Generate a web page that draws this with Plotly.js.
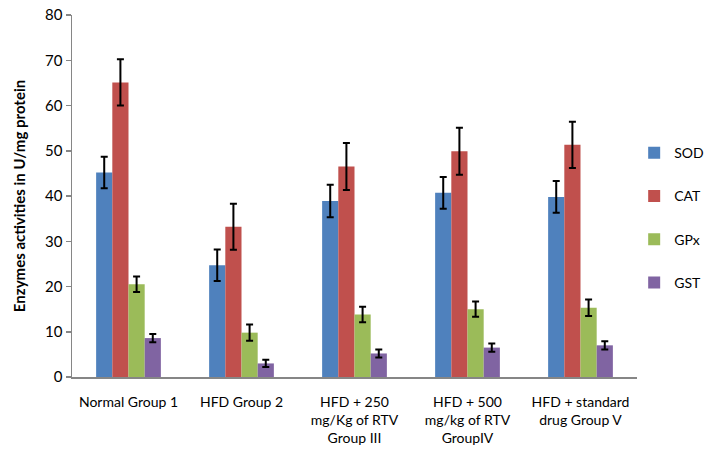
<!DOCTYPE html>
<html>
<head>
<meta charset="utf-8">
<script src="https://cdn.plot.ly/plotly-3.0.1.min.js"></script>
<style>html,body{margin:0;padding:0;background:#fff;}#chart{width:721px;height:460px;}</style>
</head>
<body>
<div id="chart"></div>
<script>
const categories = [
  "Normal Group 1",
  "HFD Group 2",
  "HFD + 250<br>mg/Kg of RTV<br>Group III",
  "HFD + 500<br>mg/kg of RTV<br>GroupIV",
  "HFD + standard<br>drug Group V"
];
const sodValues = [45.2, 24.7, 38.9, 40.7, 39.8];
const sodErrors = [3.5, 3.5, 3.6, 3.5, 3.5];
const catValues = [65.1, 33.2, 46.5, 49.9, 51.3];
const catErrors = [5.1, 5.1, 5.2, 5.2, 5.1];
const gpxValues = [20.5, 9.8, 13.8, 15.0, 15.3];
const gpxErrors = [1.7, 1.8, 1.7, 1.7, 1.8];
const gstValues = [8.6, 3.0, 5.2, 6.5, 7.0];
const gstErrors = [0.9, 0.8, 0.9, 0.9, 0.9];
const yTicks = [0, 10, 20, 30, 40, 50, 60, 70, 80];

const seriesNames = ["SOD", "CAT", "GPx", "GST"];
const seriesColors = ["#4F81BD", "#C0504D", "#9BBB59", "#8064A2"];
const seriesValues = [sodValues, catValues, gpxValues, gstValues];
const seriesErrors = [sodErrors, catErrors, gpxErrors, gstErrors];

const traces = seriesNames.map((name, i) => ({
  type: "bar",
  name: name,
  x: categories,
  y: seriesValues[i],
  legendgroup: name,
  marker: {color: seriesColors[i], line: {width: 0}},
  error_y: {type: "data", array: seriesErrors[i], visible: true, color: "#000000", thickness: 2, width: 3.5}
}));

const fontFam = "Lato, 'Open Sans', sans-serif";
const layout = {
  width: 721, height: 460,
  margin: {l: 72, r: 73, t: 15, b: 83},
  paper_bgcolor: "#ffffff", plot_bgcolor: "#ffffff",
  font: {family: fontFam, size: 14, color: "#000000"},
  barmode: "group",
  bargap: 0.427,
  bargroupgap: 0,
  showlegend: true,
  legend: {
    x: 0.995, xanchor: "left", y: 0.44, yanchor: "middle",
    font: {family: fontFam, size: 14, color: "#000000"},
    tracegroupgap: 22, traceorder: "grouped",
    bgcolor: "rgba(0,0,0,0)", borderwidth: 0
  },
  xaxis: {
    type: "category",
    showgrid: false, zeroline: false,
    showline: true, linecolor: "#868686", linewidth: 2,
    ticks: "", ticklabelstandoff: 11,
    tickfont: {family: fontFam, size: 14, color: "#000000"},
    fixedrange: true
  },
  yaxis: {
    range: [0, 80],
    tickvals: yTicks,
    ticktext: yTicks.map(String),
    showgrid: false, zeroline: false,
    showline: true, linecolor: "#868686", linewidth: 1.5,
    ticks: "outside", ticklen: 5, tickcolor: "#868686", tickwidth: 1.5,
    tickfont: {family: fontFam, size: 15, color: "#000000"},
    title: {text: "<b>Enzymes activities in U/mg protein</b>", font: {family: fontFam, size: 15, color: "#000000"}, standoff: 16},
    fixedrange: true
  }
};

Plotly.newPlot("chart", traces, layout, {displayModeBar: false, staticPlot: true});
</script>
</body>
</html>
